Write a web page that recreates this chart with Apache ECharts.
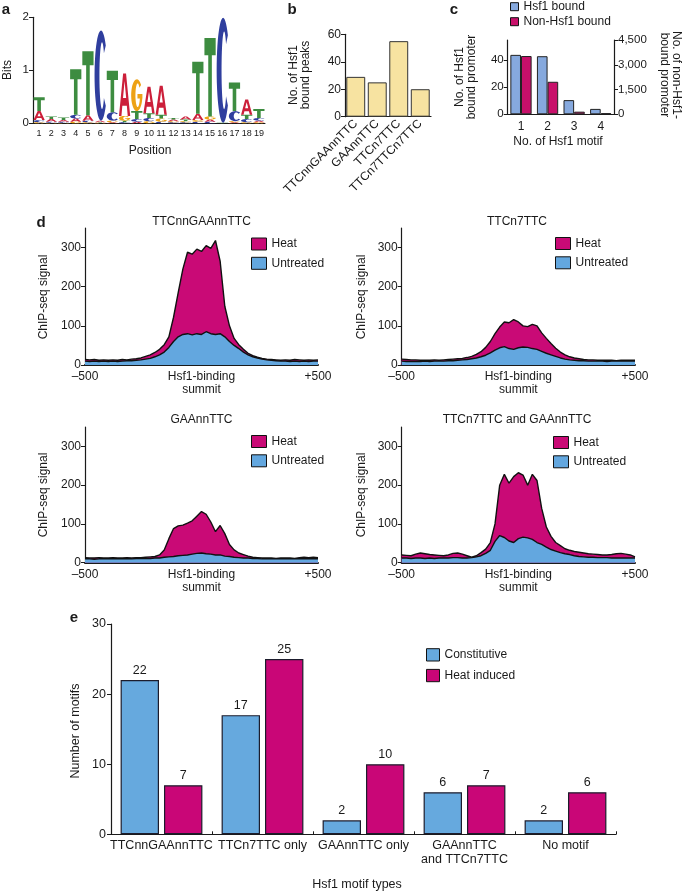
<!DOCTYPE html>
<html><head><meta charset="utf-8">
<script src="https://cdn.jsdelivr.net/npm/echarts@6/dist/echarts.min.js"></script>
<style>html,body{margin:0;padding:0;background:#fff}#c{width:685px;height:891px}</style>
</head><body><div id="c"></div>
<script>
// ---------- Panel a: sequence logo (bits per letter) ----------
const logoPositions = ['1','2','3','4','5','6','7','8','9','10','11','12','13','14','15','16','17','18','19'];
const bitsA = [0.17,0.05,0.03,0.06,0.10,0.03,0.02,0.80,0.03,0.50,0.55,0.03,0.06,0.12,0.04,0.00,0.02,0.29,0.03];
const bitsC = [0.04,0.02,0.02,0.07,0.03,1.70,0.16,0.02,0.05,0.06,0.03,0.02,0.02,0.03,0.03,1.98,0.19,0.06,0.05];
const bitsG = [0.02,0.01,0.01,0.03,0.02,0.01,0.03,0.09,0.60,0.04,0.06,0.02,0.02,0.03,0.06,0.00,0.02,0.02,0.02];
const bitsT = [0.26,0.05,0.05,0.86,1.21,0.01,0.78,0.03,0.15,0.09,0.07,0.03,0.03,0.98,1.48,0.01,0.54,0.08,0.17];

// ---------- Panel b ----------
const bCategories = ['TTCnnGAAnnTTC','GAAnnTTC','TTCn7TTC','TTCn7TTCn7TTC'];
const bPeaks = [29, 25, 55, 20];

// ---------- Panel c ----------
const cMotifCounts = ['1','2','3','4'];
const cHsf1Bound = [44, 43, 10.5, 4];
const cNonHsf1Bound = [3530, 1970, 160, 70];
const cLeftTicks = [0, 20, 40];

// ---------- Panel d ----------
const dPosition = [-500,-480,-460,-440,-420,-400,-380,-360,-340,-320,-300,-280,-260,-240,-220,-200,-180,-160,-140,-120,-100,-80,-60,-40,-20,0,20,40,60,80,100,120,140,160,180,200,220,240,260,280,300,320,340,360,380,400,420,440,460,480,500];
const dTicks = [0, 100, 200, 300];
const dTitles = ['TTCnnGAAnnTTC', 'TTCn7TTC', 'GAAnnTTC', 'TTCn7TTC and GAAnnTTC'];
const d1Heat = [14,13,14,12,13,12,13,12,14,13,15,16,18,22,26,32,40,52,72,122,185,245,288,283,296,290,305,298,318,265,150,100,68,52,40,30,24,20,17,15,14,13,12,13,12,14,13,12,13,12,13];
const d1Untreated = [10,9,10,9,10,9,10,9,10,11,11,12,13,15,17,21,26,33,45,60,72,78,80,77,80,78,85,80,78,80,72,60,50,42,33,26,21,18,15,13,12,11,10,10,9,10,9,10,9,10,10];
const d2Heat = [15,14,13,13,12,12,12,13,12,13,14,15,16,17,19,22,27,34,45,60,80,97,110,108,116,110,100,98,104,100,82,68,55,43,33,26,21,18,16,14,13,13,12,12,12,12,11,12,12,12,12];
const d2Untreated = [10,9,9,9,9,10,9,10,10,10,11,11,12,13,14,16,18,21,25,31,38,44,47,42,40,44,46,45,42,40,35,30,26,22,18,15,13,12,11,11,10,10,10,10,9,10,10,10,10,10,10];
const d3Heat = [13,12,12,13,12,12,13,12,12,13,12,13,13,14,15,16,20,33,62,88,95,97,102,108,120,132,125,105,80,96,75,47,33,25,21,17,14,13,12,12,12,11,12,12,12,11,13,14,13,14,13];
const d3Untreated = [10,10,9,10,10,10,10,10,10,10,10,11,11,11,11,12,12,14,15,16,18,19,20,22,24,25,23,22,20,20,17,16,14,13,12,12,11,11,10,10,10,10,10,10,10,10,10,10,10,10,10];
const d4Heat = [20,19,18,22,25,23,21,20,19,18,20,24,25,22,18,14,18,26,35,52,100,200,228,205,222,232,226,200,228,212,140,92,68,52,44,36,32,29,27,25,23,22,21,20,20,21,23,24,22,20,15];
const d4Untreated = [12,12,11,12,12,11,12,11,12,12,12,13,13,12,12,13,15,18,24,32,55,70,65,56,52,62,66,64,60,52,47,40,34,30,26,23,21,18,16,15,14,14,13,13,13,12,12,12,12,12,12];

// ---------- Panel e ----------
const eCategories = ['TTCnnGAAnnTTC','TTCn7TTC only','GAAnnTTC only','GAAnnTTC\nand TTCn7TTC','No motif'];
const eConstitutive = [22, 17, 2, 6, 2];
const eHeatInduced = [7, 25, 10, 7, 6];

// ---------- styling ----------
const FONT = "'Liberation Sans', Arial, Helvetica, sans-serif";
const INK = '#1a1a1a';
const HEAT = '#c90a76';
const UNTR = '#63a7df';
const LETTER_COLORS = ['#cc1f3a', '#2f3e9e', '#eda215', '#3d8c40']; // A C G T

// letter glyph outlines (unit box 0..100), stretched to each letter's box
function ringGlyph(a0, a1) {
  const pts = [];
  const n = 40;
  for (let k = 0; k <= n; k++) { const t = (a0 + (a1 - a0) * k / n) * Math.PI / 180; pts.push([50 + 50 * Math.cos(t), 50 + 50 * Math.sin(t)]); }
  for (let k = n; k >= 0; k--) { const t = (a0 + (a1 - a0) * k / n) * Math.PI / 180; pts.push([58 + 20 * Math.cos(t), 50 + 37 * Math.sin(t)]); }
  return 'M' + pts.map(p => p[0].toFixed(2) + ',' + p[1].toFixed(2)).join(' L') + ' Z';
}
const LETTER_PATHS = [
  'M37,0 L63,0 L100,100 L78,100 L70,76 L30,76 L22,100 L0,100 Z M36,58 L64,58 L50,18 Z',
  ringGlyph(-42, -318),
  ringGlyph(-40, -360) + ' M56,46 L56,60 L100,60 L100,46 Z',
  'M0,0 L100,0 L100,22 L66,22 L66,100 L34,100 L34,22 L0,22 Z'
];

// build stacked letter items from the bits arrays
const logoItems = [];
for (let p = 0; p < logoPositions.length; p++) {
  const letters = [[0, bitsA[p]], [1, bitsC[p]], [2, bitsG[p]], [3, bitsT[p]]]
    .filter(d => d[1] > 0.004).sort((a, b) => a[1] - b[1]);
  let base = 0;
  letters.forEach(([li, h]) => { logoItems.push([p, base, base + h, li]); base += h; });
}

const toPairs = arr => dPosition.map((x, i) => [x, arr[i]]);
const dSets = [[d1Heat, d1Untreated], [d2Heat, d2Untreated], [d3Heat, d3Untreated], [d4Heat, d4Untreated]];

const axisLineS = (w) => ({ show: true, onZero: false, lineStyle: { color: INK, width: w || 1 } });
const lbl = (size, extra) => Object.assign({ color: INK, fontSize: size, fontFamily: FONT }, extra || {});

const grids = [
  { left: 33, top: 17.3, width: 232, height: 106 },
  { left: 345, top: 34.3, width: 86, height: 82.4 },
  { left: 507.7, top: 40, width: 106.3, height: 74.3 },
  { left: 85, top: 228, width: 233, height: 137 },
  { left: 401.7, top: 228, width: 233.3, height: 137 },
  { left: 85, top: 427, width: 233, height: 135.7 },
  { left: 401.7, top: 427, width: 233.3, height: 135.7 },
  { left: 111, top: 624, width: 505, height: 210.3 }
];

const xAxes = [
  { gridIndex: 0, type: 'category', data: logoPositions, axisLine: axisLineS(1), axisTick: { show: false }, axisLabel: lbl(9, { margin: 6, interval: 0 }) },
  { gridIndex: 1, type: 'category', data: bCategories, axisLine: axisLineS(1.2), axisTick: { show: false }, axisLabel: lbl(12, { rotate: 45, margin: 5, interval: 0 }) },
  { gridIndex: 2, type: 'category', data: cMotifCounts, axisLine: axisLineS(1.2), axisTick: { show: false }, axisLabel: lbl(12, { margin: 6 }) }
];
for (let i = 0; i < 4; i++) {
  xAxes.push({
    gridIndex: 3 + i, type: 'value', min: -500, max: 500,
    axisLine: axisLineS(2), axisTick: { show: false }, splitLine: { show: false },
    axisLabel: lbl(12, {
      margin: 5, lineHeight: 13, customValues: [-500, 0, 500],
      formatter: v => v === -500 ? '\u2013500' : (v === 500 ? '+500' : 'Hsf1-binding\nsummit')
    })
  });
}
xAxes.push({ gridIndex: 7, type: 'category', data: eCategories, axisLine: axisLineS(1.2),
  axisTick: { show: true, inside: true, length: 3, alignWithLabel: false, lineStyle: { color: INK } },
  axisLabel: lbl(12.5, { margin: 5, lineHeight: 13.3, interval: 0 }) });

const yBase = (grid, extra) => Object.assign({
  gridIndex: grid, type: 'value', splitLine: { show: false }, axisLine: axisLineS(1.2),
  axisTick: { show: true, length: 4, lineStyle: { color: INK } }
}, extra);

const yAxes = [
  yBase(0, { min: 0, max: 2, interval: 1, axisLabel: lbl(11.5, { margin: 4 }) }),
  yBase(1, { min: 0, max: 60, interval: 20, axisLabel: lbl(12, { margin: 4 }) }),
  yBase(2, { min: 0, max: 55, axisLabel: lbl(11.5, { margin: 4, customValues: cLeftTicks }),
    axisTick: { show: true, length: 4, customValues: cLeftTicks, lineStyle: { color: INK } } }),
  yBase(2, { position: 'right', min: 0, max: 4500, interval: 1500,
    axisLabel: lbl(11.5, { margin: 4, formatter: v => v.toLocaleString('en-US') }) })
];
for (let i = 0; i < 4; i++) {
  yAxes.push(yBase(3 + i, { min: 0, max: 350,
    axisLabel: lbl(12, { margin: 4, customValues: dTicks }),
    axisTick: { show: true, length: 4, customValues: dTicks, lineStyle: { color: INK } } }));
}
yAxes.push(yBase(7, { min: 0, max: 30, interval: 10, axisLabel: lbl(12.5, { margin: 5 }) }));

const series = [
  {
    type: 'custom', xAxisIndex: 0, yAxisIndex: 0, data: logoItems,
    encode: { x: 0, y: [1, 2] },
    renderItem: function (params, api) {
      const xi = api.value(0), y0 = api.value(1), y1 = api.value(2), li = api.value(3);
      const pb = api.coord([xi, y0]), pt = api.coord([xi, y1]);
      const bw = api.size([1, 0])[0] * 0.92;
      return { type: 'path',
        shape: { pathData: LETTER_PATHS[li], x: pt[0] - bw / 2, y: pt[1], width: bw, height: Math.max(pb[1] - pt[1], 0.3), layout: 'cover' },
        style: { fill: LETTER_COLORS[li] } };
    }
  },
  { type: 'bar', name: 'peaks', xAxisIndex: 1, yAxisIndex: 1, data: bPeaks, barCategoryGap: '12%',
    itemStyle: { color: '#f7e3a1', borderColor: '#333', borderWidth: 1 } },
  { type: 'bar', name: 'Hsf1 bound', xAxisIndex: 2, yAxisIndex: 2, data: cHsf1Bound, barGap: '0%', barCategoryGap: '20%',
    itemStyle: { color: '#86a9de', borderColor: '#222', borderWidth: 1 } },
  { type: 'bar', name: 'Non-Hsf1 bound', xAxisIndex: 2, yAxisIndex: 3, data: cNonHsf1Bound, barGap: '0%', barCategoryGap: '20%',
    itemStyle: { color: '#c8106a', borderColor: '#222', borderWidth: 1 } }
];
dSets.forEach((pair, i) => {
  series.push({ type: 'line', name: 'Heat', xAxisIndex: 3 + i, yAxisIndex: 4 + i, data: toPairs(pair[0]),
    showSymbol: false, symbol: 'none', z: 2, itemStyle: { color: HEAT },
    lineStyle: { color: '#111', width: 1.4 }, areaStyle: { color: HEAT, opacity: 1 } });
  series.push({ type: 'line', name: 'Untreated', xAxisIndex: 3 + i, yAxisIndex: 4 + i, data: toPairs(pair[1]),
    showSymbol: false, symbol: 'none', z: 3, itemStyle: { color: UNTR },
    lineStyle: { color: '#111', width: 1.4 }, areaStyle: { color: UNTR, opacity: 1 } });
});
const eLabel = { show: true, position: 'top', distance: 3, color: INK, fontSize: 12.5, fontFamily: FONT };
series.push({ type: 'bar', name: 'Constitutive', xAxisIndex: 7, yAxisIndex: 8, data: eConstitutive,
  barGap: '13%', barCategoryGap: '19%', label: eLabel,
  itemStyle: { color: '#66a9de', borderColor: '#1c1c2c', borderWidth: 1.2 } });
series.push({ type: 'bar', name: 'Heat induced', xAxisIndex: 7, yAxisIndex: 8, data: eHeatInduced,
  barGap: '13%', barCategoryGap: '19%', label: eLabel,
  itemStyle: { color: '#c90677', borderColor: '#1c1c2c', borderWidth: 1.2 } });

const legItem = (name, color) => ({ name, icon: 'rect', itemStyle: { color, borderColor: '#111', borderWidth: 1 } });
const dLegend = (left, top) => ({ orient: 'vertical', left, top, padding: 0, itemWidth: 15, itemHeight: 12, itemGap: 6.3,
  selectedMode: false, textStyle: lbl(12), data: [legItem('Heat', HEAT), legItem('Untreated', UNTR)] });
const legends = [
  { orient: 'vertical', left: 510, top: 0.7, padding: 0, itemWidth: 8, itemHeight: 8, itemGap: 3, selectedMode: false,
    textStyle: lbl(12), data: [legItem('Hsf1 bound', '#86a9de'), legItem('Non-Hsf1 bound', '#c8106a')] },
  dLegend(251, 237.5), dLegend(555, 237), dLegend(251, 435), dLegend(553, 436),
  { orient: 'vertical', left: 426, top: 648.2, padding: 0, itemWidth: 13, itemHeight: 12.3, itemGap: 7.4, selectedMode: false,
    textStyle: lbl(12), data: [legItem('Constitutive', '#66a9de'), legItem('Heat induced', '#c90677')] }
];

const txt = (text, x, y, opts) => {
  opts = opts || {};
  return { type: 'text', x, y, rotation: opts.rot || 0, z: 100,
    style: { text, fill: INK, fontFamily: FONT, fontSize: opts.size || 12, fontWeight: opts.bold ? 'bold' : 'normal',
      align: 'center', verticalAlign: 'middle', lineHeight: opts.lh || 12 } };
};
const R = Math.PI / 2;
const graphics = [
  txt('a', 6, 10, { bold: 1, size: 15 }), txt('b', 292, 10, { bold: 1, size: 15 }), txt('c', 454, 10, { bold: 1, size: 15 }),
  txt('d', 41, 223, { bold: 1, size: 15 }), txt('e', 74, 618, { bold: 1, size: 15 }),
  txt('Bits', 8, 70, { rot: R }), txt('Position', 150, 151),
  txt('No. of Hsf1\nbound peaks', 299.5, 75, { rot: R }),
  txt('No. of Hsf1\nbound promoter', 466, 77, { rot: R }),
  txt('No. of non-Hsf1-\nbound promoter', 670, 75, { rot: -R }),
  txt('No. of Hsf1 motif', 558, 142),
  txt(dTitles[0], 201.5, 222), txt(dTitles[1], 517, 222), txt(dTitles[2], 201.5, 420), txt(dTitles[3], 517, 420),
  txt('ChIP-seq signal', 43.3, 297, { rot: R }), txt('ChIP-seq signal', 361.7, 297, { rot: R }),
  txt('ChIP-seq signal', 43.3, 495, { rot: R }), txt('ChIP-seq signal', 361.7, 495, { rot: R }),
  txt('Number of motifs', 76, 731, { rot: R, size: 12.5 }), txt('Hsf1 motif types', 357, 885, { size: 12.5 })
];

const chart = echarts.init(document.getElementById('c'), null, { renderer: 'canvas' });
chart.setOption({
  animation: false, backgroundColor: '#fff', textStyle: { fontFamily: FONT, color: INK },
  grid: grids, xAxis: xAxes, yAxis: yAxes, series, legend: legends, graphic: graphics
});
</script></body></html>
